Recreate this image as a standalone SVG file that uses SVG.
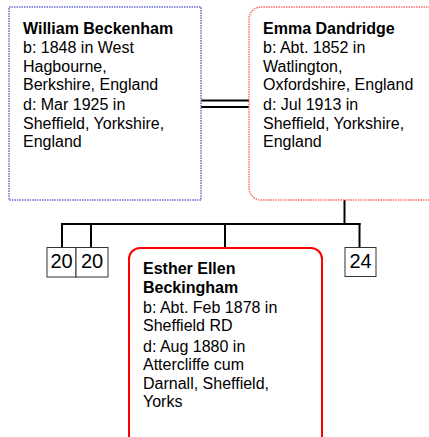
<svg xmlns="http://www.w3.org/2000/svg" width="429" height="437" viewBox="0 0 429 437">
<style>
text{font-family:"Liberation Sans",Arial,sans-serif;font-size:16px;fill:#000}
.b{font-weight:bold}
.num{font-size:20px;text-anchor:middle}
.ln{stroke:#000;stroke-width:2;fill:none}
.sm{fill:#fff;stroke:#333;stroke-width:1}
</style>
<rect width="429" height="437" fill="#fff"/>
<g id="connectors">
<line class="ln" x1="201" y1="100.5" x2="249" y2="100.5"/>
<line class="ln" x1="201" y1="107" x2="249" y2="107"/>
<line class="ln" x1="344.5" y1="200" x2="344.5" y2="224"/>
<line class="ln" x1="61" y1="224" x2="360.5" y2="224"/>
<line class="ln" x1="62" y1="223" x2="62" y2="247"/>
<line class="ln" x1="91" y1="223" x2="91" y2="247"/>
<line class="ln" x1="225" y1="223" x2="225" y2="248"/>
<line class="ln" x1="359.5" y1="223" x2="359.5" y2="248"/>
</g>
<g id="william">
<rect x="9" y="7" width="192" height="193" fill="#fff" stroke="#6b6bd6" stroke-width="1.5" stroke-dasharray="1.5 1"/>
<text x="23" y="34" class="b">William Beckenham</text>
<text x="23" y="53">b: 1848 in West</text>
<text x="23" y="72">Hagbourne,</text>
<text x="23" y="90">Berkshire, England</text>
<text x="23" y="110">d: Mar 1925 in</text>
<text x="23" y="129">Sheffield, Yorkshire,</text>
<text x="23" y="147">England</text>
</g>
<g id="emma">
<rect x="249" y="7" width="200" height="193" rx="12" ry="12" fill="#fff" stroke="#ff6b6b" stroke-width="1.5" stroke-dasharray="1.5 1"/>
<text x="263" y="34" class="b">Emma Dandridge</text>
<text x="263" y="53">b: Abt. 1852 in</text>
<text x="263" y="72">Watlington,</text>
<text x="263" y="90">Oxfordshire, England</text>
<text x="263" y="110">d: Jul 1913 in</text>
<text x="263" y="129">Sheffield, Yorkshire,</text>
<text x="263" y="147">England</text>
</g>
<g id="child1">
<rect class="sm" x="47" y="247.5" width="29" height="29.5"/>
<text class="num" x="61.5" y="268">20</text>
</g>
<g id="child2">
<rect class="sm" x="76" y="247.5" width="32" height="29.5"/>
<text class="num" x="92" y="268">20</text>
</g>
<g id="child4">
<rect class="sm" x="345" y="247.5" width="31" height="29"/>
<text class="num" x="360.5" y="268">24</text>
</g>
<g id="esther">
<rect x="129" y="248" width="193" height="210" rx="11" ry="11" fill="#fff" stroke="#ff0000" stroke-width="2"/>
<text x="143" y="274" class="b">Esther Ellen</text>
<text x="143" y="293" class="b">Beckingham</text>
<text x="143" y="313">b: Abt. Feb 1878 in</text>
<text x="143" y="331">Sheffield RD</text>
<text x="143" y="352">d: Aug 1880 in</text>
<text x="143" y="370">Attercliffe cum</text>
<text x="143" y="389">Darnall, Sheffield,</text>
<text x="143" y="407">Yorks</text>
</g>
</svg>
